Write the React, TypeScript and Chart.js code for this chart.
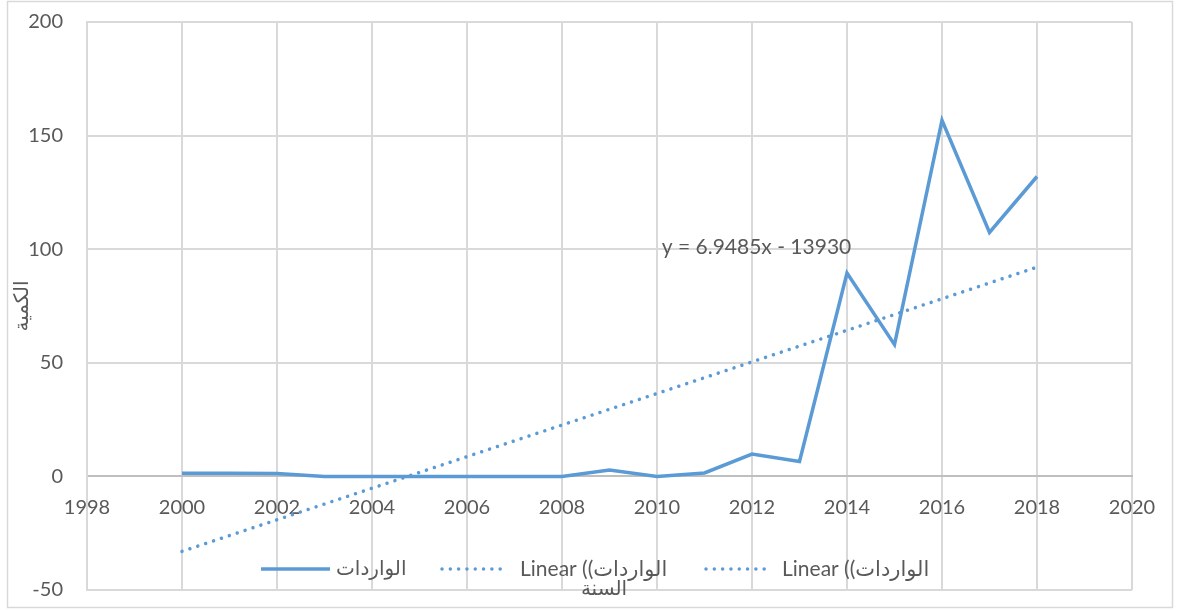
import React, { useEffect, useRef } from 'react';
import { Chart, registerables } from 'chart.js';

Chart.register(...registerables);

// ---- data ----
const years = [2000, 2001, 2002, 2003, 2004, 2005, 2006, 2007, 2008, 2009, 2010, 2011, 2012, 2013, 2014, 2015, 2016, 2017, 2018];
const imports = [1.4, 1.4, 1.3, 0, 0, 0, 0, 0, 0, 2.8, 0, 1.5, 9.8, 6.6, 89.5, 58, 156.7, 107.4, 132];
const trendYears = [2000, 2018];
const trendValues = [-33, 92.1];
const seriesLabel = 'الواردات';
const legendLabels = ['الواردات', 'Linear ((الواردات', 'Linear ((الواردات'];
const equationText = 'y = 6.9485x - 13930';
const xTitle = 'السنة';
const yTitle = 'الكمية';
const xTicks = [1998, 2020, 2];
const yTicks = [-50, 200, 50];

const BLUE = '#5b9bd5';
const TEXT = '#595959';
const GRID = '#d9d9d9';
const FONT = 'Lato, "DejaVu Sans", sans-serif';

const decorPlugin = {
  id: 'decor',
  beforeDraw(chart: any) {
    const ctx = chart.ctx;
    ctx.save();
    ctx.fillStyle = '#ffffff';
    ctx.fillRect(0, 0, chart.width, chart.height);
    ctx.strokeStyle = GRID;
    ctx.lineWidth = 1.5;
    ctx.strokeRect(7.5, 1.5, 1165, 606);
    ctx.restore();
  },
  afterDraw(chart: any) {
    const ctx = chart.ctx;
    const xs = chart.scales.x;
    const ys = chart.scales.y;
    ctx.save();
    ctx.fillStyle = TEXT;
    ctx.font = `21px ${FONT}`;
    ctx.textBaseline = 'middle';
    ctx.textAlign = 'left';
    // trendline equation
    ctx.fillText(equationText, xs.getPixelForValue(2010.1), ys.getPixelForValue(100.7));

    // legend
    const ly = 569;
    const entries = [
      { dash: false, x0: 261, x1: 330, tx: 336, size: 20, label: legendLabels[0] },
      { dash: true, x0: 442, x1: 507, tx: 520, size: 21, label: legendLabels[1] },
      { dash: true, x0: 706, x1: 769, tx: 782, size: 21, label: legendLabels[2] },
    ];
    entries.forEach((e) => {
      ctx.save();
      ctx.strokeStyle = BLUE;
      ctx.lineWidth = 3.5;
      if (e.dash) {
        ctx.lineCap = 'round';
        ctx.setLineDash([0.01, 8.3]);
      } else {
        ctx.lineCap = 'butt';
      }
      ctx.beginPath();
      ctx.moveTo(e.x0, ly);
      ctx.lineTo(e.x1, ly);
      ctx.stroke();
      ctx.restore();
      ctx.font = `${e.size}px ${FONT}`;
      ctx.fillText(e.label, e.tx, ly);
    });

    // x-axis title
    ctx.font = `20px ${FONT}`;
    ctx.textAlign = 'center';
    ctx.fillText(xTitle, 604, 589);
    ctx.restore();
  },
};

export default function App() {
  const ref = useRef<HTMLCanvasElement>(null);
  useEffect(() => {
    if (!ref.current) return;
    const chart = new Chart(ref.current, {
      type: 'line',
      data: {
        datasets: [
          {
            label: seriesLabel,
            data: years.map((y, i) => ({ x: y, y: imports[i] })),
            borderColor: BLUE,
            backgroundColor: BLUE,
            borderWidth: 3.5,
            pointRadius: 0,
            tension: 0,
            borderJoinStyle: 'miter',
          },
          {
            label: legendLabels[1],
            data: trendYears.map((y, i) => ({ x: y, y: trendValues[i] })),
            borderColor: BLUE,
            borderWidth: 3.5,
            borderDash: [0.01, 8.3],
            borderCapStyle: 'round',
            pointRadius: 0,
          },
        ],
      },
      options: {
        responsive: false,
        animation: false,
        layout: { padding: { left: 0, right: 47, top: 22, bottom: 20 } },
        plugins: {
          legend: { display: false },
          tooltip: { enabled: false },
        },
        scales: {
          x: {
            type: 'linear',
            position: { y: 0 },
            min: xTicks[0],
            max: xTicks[1],
            afterFit: (s: any) => {
              s.height = 0;
              s.paddingLeft = 0;
              s.paddingRight = 0;
            },
            ticks: {
              stepSize: xTicks[2],
              color: TEXT,
              font: { family: FONT, size: 20 },
              padding: 19,
              maxRotation: 0,
              callback: (v: any) => String(v),
            },
            grid: { color: GRID, lineWidth: 2, drawTicks: false },
            border: { display: true, color: '#bfbfbf', width: 2 },
          },
          y: {
            type: 'linear',
            min: yTicks[0],
            max: yTicks[1],
            afterFit: (s: any) => {
              s.width = 87;
              s.paddingTop = 0;
              s.paddingBottom = 0;
            },
            ticks: {
              stepSize: yTicks[2],
              color: TEXT,
              font: { family: FONT, size: 20 },
              padding: 24,
            },
            grid: {
              color: (c: any) => (c.tick && c.tick.value === 0 ? '#bfbfbf' : GRID),
              lineWidth: 2,
              drawTicks: false,
            },
            border: { display: true, color: GRID, width: 2 },
            title: {
              display: true,
              text: yTitle,
              color: TEXT,
              font: { family: FONT, size: 20 },
              padding: { top: 10, bottom: 0 },
            },
          },
        },
      },
      plugins: [decorPlugin],
    } as any);
    return () => chart.destroy();
  }, []);
  return (
    <div style={{ position: 'absolute', left: 0, top: 0, width: 1179, height: 610 }}>
      <canvas ref={ref} width={1179} height={610} style={{ display: 'block' }} />
    </div>
  );
}
